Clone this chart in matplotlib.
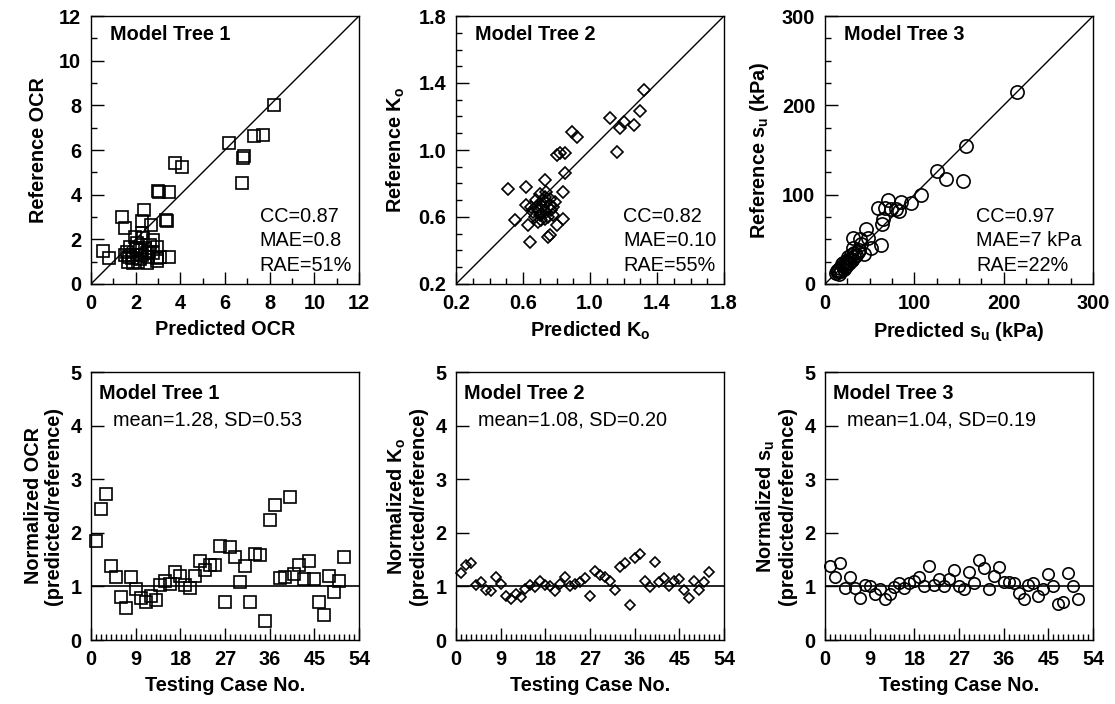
import numpy as np
import matplotlib
matplotlib.use("Agg")
import matplotlib.pyplot as plt
from matplotlib.ticker import MultipleLocator, FixedLocator, FormatStrFormatter

plt.rcParams['font.family'] = ['Liberation Sans', 'DejaVu Sans']
plt.rcParams['mathtext.fontset'] = 'custom'
plt.rcParams['mathtext.rm'] = 'Liberation Sans:bold'
plt.rcParams['mathtext.it'] = 'Liberation Sans:bold'
plt.rcParams['mathtext.bf'] = 'Liberation Sans:bold'

# ---------------- data ----------------
ocr_pred = [8.21, 6.16, 7.31, 7.72, 6.79, 6.86, 6.74, 3.78, 4.08, 2.99, 3.06, 3.51, 2.39,
            1.38, 3.36, 3.42, 2.29, 1.53, 2.68, 0.55, 0.82, 3.48, 2.95,
            1.59, 1.74, 1.89, 2.04, 2.19, 2.34, 2.49, 2.64, 2.79, 2.94, 1.67, 2.12, 2.49,
            2.79, 1.97, 2.27, 2.57, 1.82, 1.52, 2.94, 3.10,
            1.70, 2.00, 2.20, 2.40, 1.90, 2.60, 2.30]
ocr_ref = [8.03, 6.31, 6.64, 6.67, 5.64, 5.71, 4.51, 5.41, 5.22, 4.18, 4.14, 4.10, 3.32,
           2.99, 2.87, 2.84, 2.81, 2.50, 2.65, 1.49, 1.16, 1.22, 1.04,
           1.45, 1.67, 1.30, 1.82, 1.52, 2.05, 1.37, 1.75, 1.97, 1.15, 1.00, 1.00, 0.93,
           1.37, 2.12, 2.27, 1.22, 1.15, 1.30, 1.67, 1.20,
           1.20, 1.60, 1.10, 1.60, 0.95, 1.45, 1.30]

ko_pred = [1.12, 1.16, 1.18, 1.20, 1.26, 1.30, 1.32,
           0.89, 0.92, 0.80, 0.82, 0.85, 0.85,
           0.51, 0.62, 0.73, 0.84, 0.55, 0.64, 0.62, 0.63, 0.75, 0.76, 0.80, 0.84, 0.79,
           0.70, 0.74, 0.68, 0.72, 0.66, 0.70, 0.74, 0.76, 0.71, 0.78, 0.68, 0.73, 0.75,
           0.69, 0.72, 0.67, 0.74, 0.71, 0.77, 0.65, 0.73, 0.70, 0.76, 0.69, 0.78]
ko_ref = [1.19, 0.99, 1.13, 1.17, 1.15, 1.23, 1.36,
          1.11, 1.08, 0.97, 0.98, 0.98, 0.86,
          0.77, 0.78, 0.82, 0.75, 0.58, 0.45, 0.67, 0.55, 0.48, 0.49, 0.55, 0.59, 0.69,
          0.74, 0.75, 0.66, 0.70, 0.63, 0.61, 0.63, 0.67, 0.58, 0.61, 0.70, 0.72, 0.60,
          0.64, 0.66, 0.60, 0.69, 0.62, 0.64, 0.66, 0.59, 0.68, 0.71, 0.57, 0.66]

su_pred = [158, 125, 135, 155, 108, 96, 85, 83, 70, 59, 67, 74, 80, 65, 64, 46, 63,
           31, 39, 48, 52, 44, 37, 31, 215,
           12, 15, 17, 18, 20, 22, 24, 25, 27, 28, 30, 32, 14, 19, 21, 26, 29, 23, 35,
           38, 33, 16, 40, 13, 20, 24]
su_ref = [154, 126, 117, 115, 100, 91, 92, 82, 94, 85, 85, 84, 84, 73, 67, 62, 44,
          51, 50, 51, 40, 34, 36, 40, 215,
          12, 14, 18, 15, 20, 19, 22, 25, 24, 28, 27, 30, 16, 22, 17, 30, 33, 26, 32,
          38, 35, 11, 45, 15, 23, 20]

case_no = list(range(1, 52))
ocr_norm = [1.85, 2.45, 2.73, 1.38, 1.18, 0.81, 0.60, 1.18, 0.96, 0.79, 0.70, 0.83, 0.74,
            1.02, 1.10, 1.05, 1.26, 1.20, 1.02, 0.97, 1.19, 1.48, 1.31, 1.40, 1.40, 1.76,
            0.70, 1.73, 1.55, 1.09, 1.38, 0.70, 1.60, 1.59, 0.36, 2.23, 2.51, 1.16, 1.18,
            2.67, 1.24, 1.40, 1.13, 1.48, 1.13, 0.71, 0.46, 1.19, 0.89, 1.11, 1.54]
ko_norm = [1.25, 1.39, 1.44, 1.02, 1.09, 0.93, 0.91, 1.17, 1.05, 0.83, 0.76, 0.86, 0.80,
           0.96, 1.02, 0.98, 1.11, 1.02, 1.00, 0.91, 1.05, 1.17, 1.00, 1.05, 1.09, 1.16,
           0.82, 1.28, 1.22, 1.17, 1.11, 0.94, 1.36, 1.44, 0.65, 1.53, 1.60, 1.10, 0.99,
           1.45, 1.08, 1.16, 1.00, 1.11, 1.13, 0.93, 0.78, 1.11, 0.93, 1.09, 1.27]
su_norm = [1.38, 1.18, 1.44, 0.97, 1.17, 0.97, 0.79, 1.03, 1.00, 0.85, 0.95, 0.77, 0.86,
           0.99, 1.06, 0.97, 1.07, 1.11, 1.18, 1.01, 1.38, 1.03, 1.13, 1.01, 1.13, 1.31,
           1.01, 0.95, 1.26, 1.07, 1.50, 1.34, 0.95, 1.20, 1.37, 1.09, 1.09, 1.06, 0.88,
           0.77, 1.03, 1.06, 0.83, 0.95, 1.23, 1.00, 0.67, 0.71, 1.25, 1.01, 0.77]

ko_ticks = [0.2, 0.6, 1.0, 1.4, 1.8]

titles = ["Model Tree 1", "Model Tree 2", "Model Tree 3"]
stats_top = ["CC=0.87\nMAE=0.8\nRAE=51%", "CC=0.82\nMAE=0.10\nRAE=55%",
             "CC=0.97\nMAE=7 kPa\nRAE=22%"]
stats_bot = ["mean=1.28, SD=0.53", "mean=1.08, SD=0.20", "mean=1.04, SD=0.19"]

# ---------------- figure ----------------
W, H = 1115, 704
fig = plt.figure(figsize=(W / 100, H / 100), dpi=100)

def ax_at(left, top, w, h):
    return fig.add_axes([left / W, 1 - (top + h) / H, w / W, h / H])

lefts = [91, 456, 825]
FS = 14.3

def style(ax):
    for s in ax.spines.values():
        s.set_linewidth(1.0)
    ax.tick_params(which='both', direction='in', top=False, right=False,
                   labelsize=FS, pad=7, width=1.0)
    ax.tick_params(which='major', length=9)
    ax.tick_params(which='minor', length=4.5)
    for lab in ax.get_xticklabels() + ax.get_yticklabels():
        lab.set_fontweight('bold')

top_specs = [
    (ocr_pred, ocr_ref, 's', 8.6, (0, 12), 2, 1, "Predicted OCR", "Reference OCR", 0.63),
    (ko_pred, ko_ref, 'D', 6.0, (0.2, 1.8), 0.4, 0.1, r"Predicted K$_\mathregular{o}$",
     r"Reference K$_\mathregular{o}$", 0.623),
    (su_pred, su_ref, 'o', 9.5, (0, 300), 100, 25, r"Predicted s$_\mathregular{u}$ (kPa)",
     r"Reference s$_\mathregular{u}$ (kPa)", 0.565),
]

for i, (xp, yr, mk, ms, lim, maj, mnr, xl, yl, sx) in enumerate(top_specs):
    ax = ax_at(lefts[i], 16, 268, 268)
    ax.plot(lim, lim, color='black', lw=1.0, zorder=1)
    ax.plot(xp, yr, ls='none', marker=mk, ms=ms, mfc='none', mec='black', mew=1.2,
            zorder=2, clip_on=False)
    ax.set_xlim(lim)
    ax.set_ylim(lim)
    if i == 1:
        ax.xaxis.set_major_locator(FixedLocator(ko_ticks))
        ax.yaxis.set_major_locator(FixedLocator(ko_ticks))
        ax.xaxis.set_major_formatter(FormatStrFormatter('%.1f'))
        ax.yaxis.set_major_formatter(FormatStrFormatter('%.1f'))
    else:
        ax.xaxis.set_major_locator(MultipleLocator(maj))
        ax.yaxis.set_major_locator(MultipleLocator(maj))
    ax.xaxis.set_minor_locator(MultipleLocator(mnr))
    ax.yaxis.set_minor_locator(MultipleLocator(mnr))
    style(ax)
    ax.set_xlabel(xl, fontsize=FS, fontweight='bold', labelpad=5)
    ax.set_ylabel(yl, fontsize=FS, fontweight='bold', labelpad=8)
    ax.text(0.07, 0.93, titles[i], transform=ax.transAxes, fontsize=FS,
            fontweight='bold', va='center', ha='left')
    ax.text(sx, 0.035, stats_top[i], transform=ax.transAxes, fontsize=FS,
            va='bottom', ha='left', linespacing=1.35)

bot_specs = [
    (ocr_norm, 's', 8.4, "Normalized OCR\n(predicted/reference)"),
    (ko_norm, 'D', 5.2, "Normalized K$_\\mathregular{o}$\n(predicted/reference)"),
    (su_norm, 'o', 8.2, "Normalized s$_\\mathregular{u}$\n(predicted/reference)"),
]

for i, (yn, mk, ms, yl) in enumerate(bot_specs):
    ax = ax_at(lefts[i], 372, 268, 268)
    ax.axhline(1.0, color='black', lw=1.2, zorder=1)
    ax.plot(case_no, yn, ls='none', marker=mk, ms=ms, mfc='none', mec='black', mew=1.2,
            zorder=2, clip_on=False)
    ax.set_xlim(0, 54)
    ax.set_ylim(0, 5)
    ax.xaxis.set_major_locator(MultipleLocator(9))
    ax.xaxis.set_minor_locator(MultipleLocator(1))
    ax.yaxis.set_major_locator(MultipleLocator(1))
    style(ax)
    ax.set_xlabel("Testing Case No.", fontsize=FS, fontweight='bold', labelpad=5)
    ax.set_ylabel(yl, fontsize=FS, fontweight='bold', labelpad=5, linespacing=1.05)
    ax.text(0.03, 0.92, titles[i], transform=ax.transAxes, fontsize=FS,
            fontweight='bold', va='center', ha='left')
    ax.text(0.083, 0.82, stats_bot[i], transform=ax.transAxes, fontsize=FS,
            va='center', ha='left')

fig.savefig("out.png", dpi=100)
